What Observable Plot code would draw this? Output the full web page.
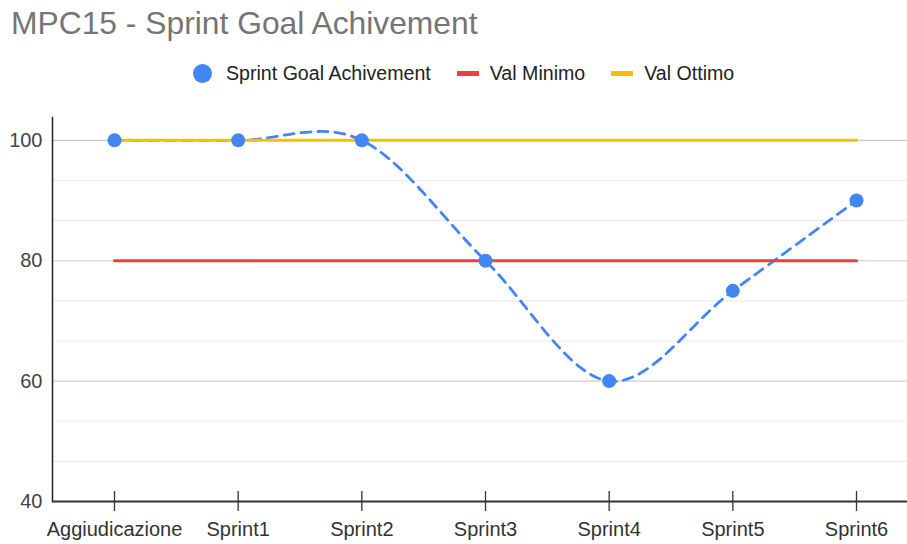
<!DOCTYPE html>
<html>
<head>
<meta charset="utf-8">
<script src="https://cdn.jsdelivr.net/npm/d3@7"></script>
<script src="https://cdn.jsdelivr.net/npm/@observablehq/plot@0.6"></script>
<style>
  html, body { margin: 0; padding: 0; background: #fff; }
  body { width: 907px; height: 544px; overflow: hidden; font-family: Arial, "Liberation Sans", sans-serif; }
  #header { position: relative; width: 907px; height: 100px; }
  #title { position: absolute; left: 11px; top: 8px; font-size: 31.8px; line-height: 1; color: #757575; white-space: nowrap; }
  #legend { position: absolute; left: 193px; top: 61px; height: 24px; display: flex; align-items: center; font-size: 19.6px; color: #222; white-space: nowrap; }
  .dot { width: 19px; height: 19px; border-radius: 50%; background: #4285f4; margin-right: 14px; }
  .sw { width: 22px; height: 5px; margin-left: 26px; margin-right: 11px; }
  #chart svg { display: block; }
</style>
</head>
<body>
<div id="header">
  <div id="title">MPC15 - Sprint Goal Achivement</div>
  <div id="legend"></div>
</div>
<div id="chart"></div>
<script>
const categories = ["Aggiudicazione", "Sprint1", "Sprint2", "Sprint3", "Sprint4", "Sprint5", "Sprint6"];
const sprintGoal = [100, 100, 100, 80, 60, 75, 90];
const valMinimo = [80, 80, 80, 80, 80, 80, 80];
const valOttimo = [100, 100, 100, 100, 100, 100, 100];
const yTickLabels = [40, 60, 80, 100];
const yMinorTicks = [46.67, 53.33, 66.67, 73.33, 86.67, 93.33];
const seriesNames = ["Sprint Goal Achivement", "Val Minimo", "Val Ottimo"];
const colors = ["#4285f4", "#ea4335", "#fbbc04"];

const rows = categories.map((c, i) => ({cat: c, goal: sprintGoal[i], min: valMinimo[i], opt: valOttimo[i]}));

// legend
const legend = document.getElementById("legend");
seriesNames.forEach((name, i) => {
  const sw = document.createElement("span");
  sw.className = i === 0 ? "dot" : "sw";
  sw.style.background = colors[i];
  legend.appendChild(sw);
  const t = document.createElement("span");
  t.textContent = name;
  legend.appendChild(t);
});

const plot = Plot.plot({
  width: 907,
  height: 444,
  marginLeft: 52,
  marginRight: 0,
  marginTop: 17,
  marginBottom: 43,
  style: {fontFamily: "Arial, 'Liberation Sans', sans-serif", background: "transparent"},
  x: {type: "point", domain: categories, range: [114, 856], padding: 0, round: false},
  y: {domain: [40, 103.8]},
  marks: [
    Plot.ruleY(yMinorTicks, {stroke: "#ebebeb", strokeWidth: 1.2}),
    Plot.ruleY(yTickLabels.slice(1), {stroke: "#cccccc", strokeWidth: 1.2}),
    Plot.axisY(yTickLabels, {tickSize: 0, tickPadding: 10, fontSize: 20, fill: "#444", label: null}),
    Plot.frame({anchor: "left", stroke: "#222", strokeWidth: 1.5}),
    Plot.ruleY([40], {stroke: "#333", strokeWidth: 2}),
    Plot.axisX({tickSize: 20, dy: -10, tickFormat: () => "", stroke: "#333", strokeWidth: 1.3, label: null}),
    Plot.axisX({tickSize: 0, tickPadding: 20, fontSize: 20, fill: "#333", label: null}),
    Plot.line(rows, {x: "cat", y: "goal", stroke: colors[0], strokeWidth: 2.8, strokeDasharray: "10,7", curve: "cardinal"}),
    Plot.line(rows, {x: "cat", y: "min", stroke: colors[1], strokeWidth: 3}),
    Plot.line(rows, {x: "cat", y: "opt", stroke: colors[2], strokeWidth: 3}),
    Plot.dot(rows, {x: "cat", y: "goal", r: 7, fill: colors[0]})
  ]
});
document.getElementById("chart").appendChild(plot);
</script>
</body>
</html>
